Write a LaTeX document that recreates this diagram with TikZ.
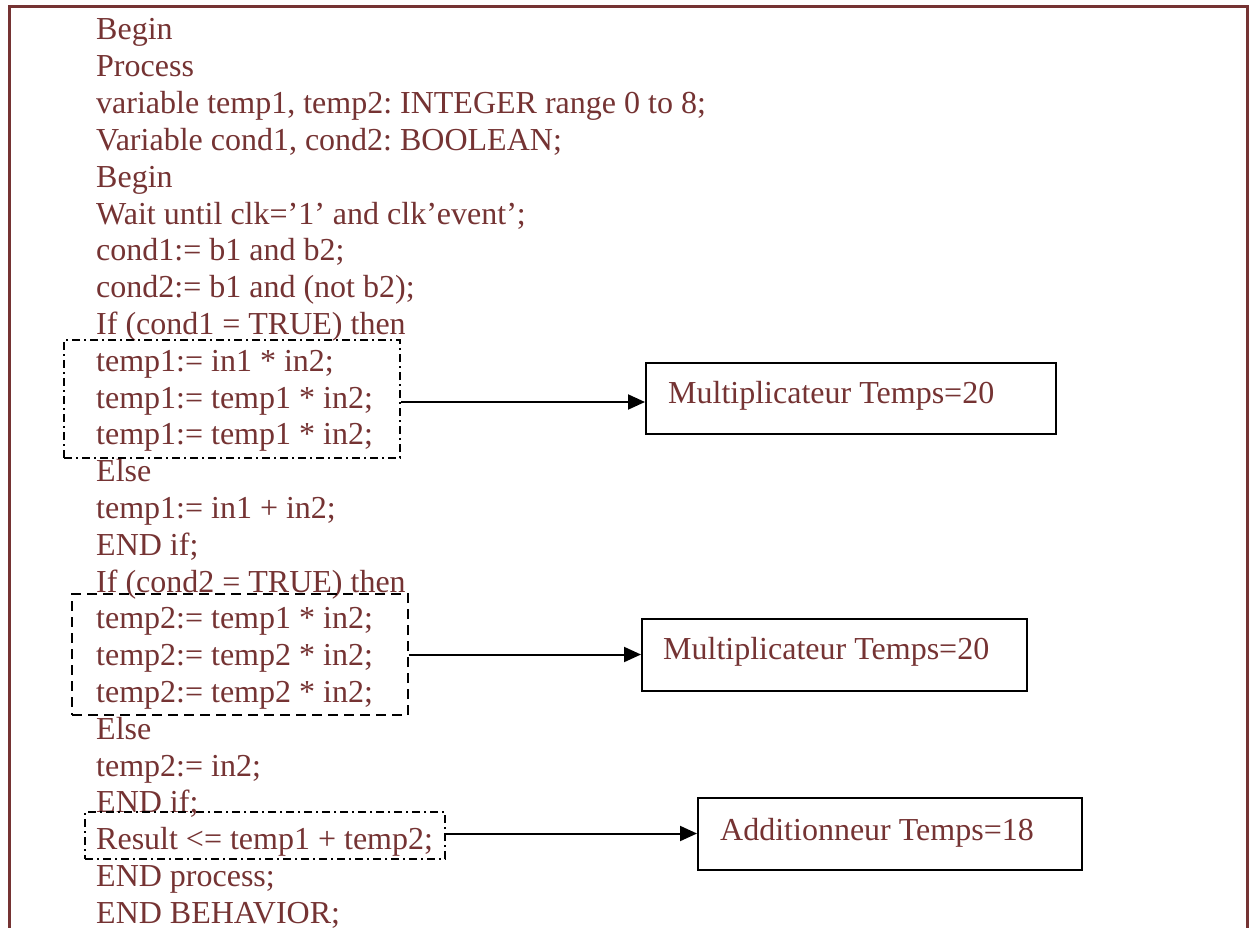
\documentclass[tikz,border=0pt]{standalone}
\usepackage{fontspec}
\setmainfont{Liberation Serif}
\usetikzlibrary{arrows.meta}
\definecolor{codered}{RGB}{117,51,51}
\frenchspacing
\begin{document}
\begin{tikzpicture}[x=1pt,y=-1pt,
  codeline/.style={anchor=base west,inner sep=0pt,text=codered,
    font=\fontsize{32pt}{36.8pt}\selectfont},
  dashdotbox/.style={draw=black,line width=2pt,inner sep=0pt,
    dash pattern=on 8pt off 4pt on 2pt off 4pt},
  dashbox/.style={draw=black,line width=2pt,inner sep=0pt,
    dash pattern=on 10pt off 6pt},
  unitbox/.style={draw=black,line width=2pt,inner sep=0pt,fill=white},
  link/.style={draw=black,line width=2pt,-{Triangle[length=17pt,width=15pt]}}]
\useasboundingbox (0,0) rectangle (1249,928);
\fill[white] (0,0) rectangle (1249,928);

% frame open at the bottom
\draw[codered,line width=3pt] (9,928) -- (9,7) -- (1247,7) -- (1247,928);

% VHDL listing, one node per line
\node[codeline] (l0)  at (96,40.0)  {Begin};
\node[codeline] (l1)  at (96,76.8)  {Process};
\node[codeline] (l2)  at (96,113.6) {variable temp1, temp2: INTEGER range 0 to 8;};
\node[codeline] (l3)  at (96,150.4) {Variable cond1, cond2: BOOLEAN;};
\node[codeline] (l4)  at (96,187.2) {Begin};
\node[codeline] (l5)  at (96,224.0) {Wait until clk=’1’ and clk’event’;};
\node[codeline] (l6)  at (96,260.8) {cond1:= b1 and b2;};
\node[codeline] (l7)  at (96,297.6) {cond2:= b1 and (not b2);};
\node[codeline] (l8)  at (96,334.4) {If (cond1 = TRUE) then};
\node[codeline] (l9)  at (96,371.2) {temp1:= in1 * in2;};
\node[codeline] (l10) at (96,408.0) {temp1:= temp1 * in2;};
\node[codeline] (l11) at (96,444.8) {temp1:= temp1 * in2;};
\node[codeline] (l12) at (96,481.6) {Else};
\node[codeline] (l13) at (96,518.4) {temp1:= in1 + in2;};
\node[codeline] (l14) at (96,555.2) {END if;};
\node[codeline] (l15) at (96,592.0) {If (cond2 = TRUE) then};
\node[codeline] (l16) at (96,628.8) {temp2:= temp1 * in2;};
\node[codeline] (l17) at (96,665.6) {temp2:= temp2 * in2;};
\node[codeline] (l18) at (96,702.4) {temp2:= temp2 * in2;};
\node[codeline] (l19) at (96,739.2) {Else};
\node[codeline] (l20) at (96,776.0) {temp2:= in2;};
\node[codeline] (l21) at (96,812.8) {END if;};
\node[codeline] (l22) at (96,849.6) {Result <= temp1 + temp2;};
\node[codeline] (l23) at (96,886.4) {END process;};
\node[codeline] (l24) at (96,923.2) {END BEHAVIOR;};

% groups of statements mapped to operators
\node[dashdotbox,minimum width=336pt,minimum height=118pt] (d1) at (232,399) {};
\node[dashbox,minimum width=336pt,minimum height=121pt] (d2) at (240,654.5) {};
\node[dashdotbox,minimum width=360pt,minimum height=47pt] (d3) at (265,835.5) {};

% operator boxes
\node[unitbox,minimum width=410pt,minimum height=71pt] (m1) at (851,398.5) {};
\node[unitbox,minimum width=385pt,minimum height=72pt] (m2) at (834.5,655) {};
\node[unitbox,minimum width=384pt,minimum height=72pt] (m3) at (890,834) {};
\node[codeline] (t1) at (668,403) {Multiplicateur Temps=20};
\node[codeline] (t2) at (663,659) {Multiplicateur Temps=20};
\node[codeline] (t3) at (720,840) {Additionneur Temps=18};

% connectors
\draw[link] ([yshift=-3pt]d1.east) -- ([yshift=-3pt]d1.east -| m1.west);
\draw[link] (d2.east) -- (d2.east -| m2.west);
\draw[link] ([yshift=2pt]d3.east) -- ([yshift=2pt]d3.east -| m3.west);
\end{tikzpicture}
\end{document}
